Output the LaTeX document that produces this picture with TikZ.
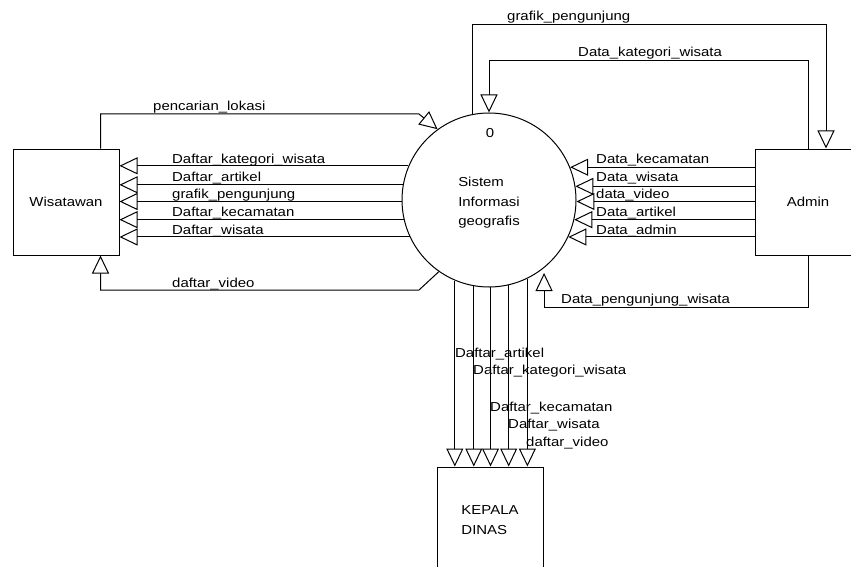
\documentclass[tikz,border=0pt]{standalone}
\usepackage{fontspec}
\setmainfont{Liberation Sans}
\newfontfamily\dfont[FakeStretch=1.15]{Liberation Sans}
\usetikzlibrary{arrows.meta}
\begin{document}
\begin{tikzpicture}[x=1pt,y=-1pt,
  every node/.style={font=\dfont\fontsize{13}{19.5}\selectfont},
  box/.style={draw, line width=1pt, minimum width=106pt, minimum height=106pt, inner sep=0pt},
  proc/.style={draw, circle, line width=1pt, minimum size=174pt, inner sep=0pt},
  flow/.style={line width=1pt, -{Triangle[open, length=18pt, width=17pt]}},
  lbl/.style={anchor=base west, inner sep=0pt},
]
\useasboundingbox (0,0) rectangle (851,567);
\clip (0,0) rectangle (851,567);

\node[box] (wis) at (66,202) {Wisatawan};
\node[box] (adm) at (808,202) {Admin};
\node[box, align=left] (kd) at (490,520) {KEPALA\\DINAS};
\node[proc] (c) at (489,200) {};
\node (zero) at (490,133) {0};
\node[align=left] (ctext) at (489,203) {Sistem\\Informasi\\geografis};

% Wisatawan side
\draw[flow] (c.157.71) -- (c.157.71 -| wis.east);
\draw[flow] (c.170.07) -- (c.170.07 -| wis.east);
\draw[flow] (c.181.32) -- (c.181.32 -| wis.east);
\draw[flow] (c.193.29) -- (c.193.29 -| wis.east);
\draw[flow] (c.205.90) -- (c.205.90 -| wis.east);
\node[lbl] (l1) at (172,163) {Daftar\_kategori\_wisata};
\node[lbl] (l2) at (172,181) {Daftar\_artikel};
\node[lbl] (l3) at (172,198) {grafik\_pengunjung};
\node[lbl] (l4) at (172,216) {Daftar\_kecamatan};
\node[lbl] (l5) at (172,234) {Daftar\_wisata};

\draw[flow] ([xshift=-19pt]wis.north east) |- (419,114) -- (c.126);
\node[lbl] (lp) at (153,111) {pencarian\_lokasi};
\draw[flow] (c.235) -- (419,290) -| ([xshift=-19pt]wis.south east);
\node[lbl] (lv) at (172,287) {daftar\_video};

% Admin side
\draw[flow] (c.22.29 -| adm.west) -- (c.22.29);
\draw[flow] (c.9.93 -| adm.west) -- (c.9.93);
\draw[flow] (c.-1.32 -| adm.west) -- (c.-1.32);
\draw[flow] (c.-13.29 -| adm.west) -- (c.-13.29);
\draw[flow] (c.-25.90 -| adm.west) -- (c.-25.90);
\node[lbl] (r1) at (596,163) {Data\_kecamatan};
\node[lbl] (r2) at (596,181) {Data\_wisata};
\node[lbl] (r3) at (596,198) {data\_video};
\node[lbl] (r4) at (596,216) {Data\_artikel};
\node[lbl] (r5) at (596,234) {Data\_admin};

\draw[flow] (c.101.27) -- (c.101.27 |- 0,25) -| ([xshift=18pt]adm.north);
\node[lbl] (tg) at (507,21) {grafik\_pengunjung};
\draw[flow] (adm.north) -- (adm.north |- 0,61) -| (c.north);
\node[lbl] (tk) at (578,57) {Data\_kategori\_wisata};
\draw[flow] (adm.south) -- (adm.south |- 0,307) -| ([yshift=-5pt]c.-51.63);
\node[lbl] (tp) at (561,303) {Data\_pengunjung\_wisata};

% Kepala Dinas
\draw[flow] (c.-113.0) -- (c.-113.0 |- kd.north);
\draw[flow] (c.-100.6) -- (c.-100.6 |- kd.north);
\draw[flow] (c.-89.34) -- (c.-89.34 |- kd.north);
\draw[flow] (c.-77.39) -- (c.-77.39 |- kd.north);
\draw[flow] (c.-64.83) -- (c.-64.83 |- kd.north);
\node[lbl] (b1) at (455,357) {Daftar\_artikel};
\node[lbl] (b2) at (473,374) {Daftar\_kategori\_wisata};
\node[lbl] (b3) at (490,411) {Daftar\_kecamatan};
\node[lbl] (b4) at (508,428) {Daftar\_wisata};
\node[lbl] (b5) at (526,446) {daftar\_video};
\end{tikzpicture}
\end{document}
